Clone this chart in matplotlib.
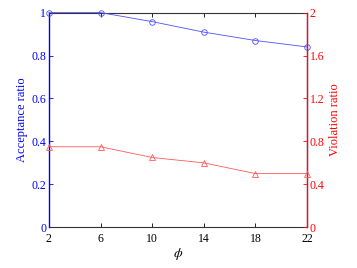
import matplotlib
matplotlib.use('Agg')
from matplotlib import pyplot as plt

plt.rcParams['font.family'] = ['Liberation Serif', 'DejaVu Serif']
plt.rcParams['mathtext.fontset'] = 'stix'

phi = [2, 6, 10, 14, 18, 22]
acceptance = [1.0, 1.0, 0.958, 0.909, 0.87, 0.84]
violation = [0.75, 0.75, 0.65, 0.6, 0.5, 0.5]
left_ticks = [0, 0.2, 0.4, 0.6, 0.8, 1]
left_labels = ['0', '0.2', '0.4', '0.6', '0.8', '1']
right_ticks = [0, 0.4, 0.8, 1.2, 1.6, 2]
right_labels = ['0', '0.4', '0.8', '1.2', '1.6', '2']

blue = (0, 0, 1)
red = (1, 0, 0)

fig = plt.figure(figsize=(3.57, 2.68), dpi=100)
ax = fig.add_axes([0.137, 0.152, 0.723, 0.801])
ax.plot(phi, acceptance, color='#4f4fff', lw=0.6, marker='o', ms=4, mfc='none', mew=0.6,
        clip_on=False, zorder=5)
ax.set_xlim(2, 22)
ax.set_ylim(0, 1)
ax.set_xticks(phi)
ax.set_yticks(left_ticks)
ax.set_yticklabels(left_labels)
ax.set_xlabel(r'$\phi$', fontsize=10, labelpad=1)
ax.set_ylabel('Acceptance ratio', color=blue, fontsize=9, labelpad=2)
ax.tick_params(axis='x', direction='in', top=True, labelsize=8.5, length=3, width=0.6, pad=4)
ax.tick_params(axis='y', direction='in', colors=blue, labelsize=8.5, length=3, width=0.6, pad=2)
ax.spines['left'].set_color(blue)
ax.spines['left'].set_linewidth(1.0)
for s in ['top', 'bottom']:
    ax.spines[s].set_linewidth(0.8)
    ax.spines[s].set_color('#333333')

ax2 = ax.twinx()
ax2.plot(phi, violation, color='#ff5a5a', lw=0.6, marker='^', ms=4, mfc='none', mew=0.6,
         clip_on=False, zorder=5)
ax2.set_ylim(0, 2)
ax2.set_yticks(right_ticks)
ax2.set_yticklabels(right_labels)
ax2.set_ylabel('Violation ratio', color=red, fontsize=9, labelpad=3)
ax2.tick_params(axis='y', direction='in', colors=red, labelsize=8.5, length=3, width=0.6, pad=2)
ax2.spines['right'].set_color('#e0102a')
ax2.spines['right'].set_linewidth(1.0)
ax2.spines['left'].set_visible(False)
ax2.spines['top'].set_visible(False)
ax2.spines['bottom'].set_visible(False)

fig.savefig('out.png', dpi=100)
